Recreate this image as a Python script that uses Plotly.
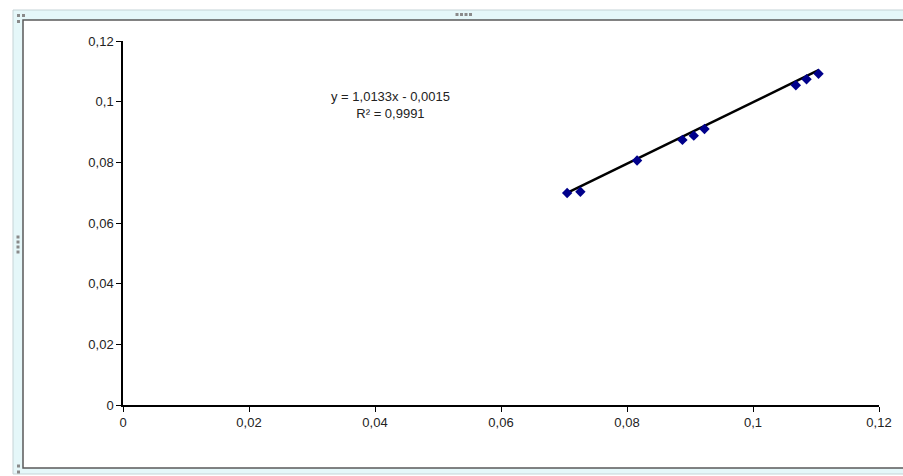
import plotly.graph_objects as go

# Data
x_vals = [0.0705, 0.0726, 0.0816, 0.0888, 0.0906, 0.0923, 0.1068, 0.1085, 0.1104]
y_vals = [0.0699, 0.0703, 0.0806, 0.0874, 0.0888, 0.0910, 0.1054, 0.1074, 0.1092]
slope = 1.0133
intercept = -0.0015
r_squared = "0,9991"

tick_vals = [0, 0.02, 0.04, 0.06, 0.08, 0.1, 0.12]
tick_text = ["0", "0,02", "0,04", "0,06", "0,08", "0,1", "0,12"]

W, H = 903, 476
L, R, T, B = 123, 24, 41, 71
pw, ph = W - L - R, H - T - B


def px(xp):
    return (xp - L) / pw


def py(yp):
    return (H - B - yp) / ph


x_min, x_max = min(x_vals), max(x_vals)
trend_x = [x_min, x_max]
trend_y = [slope * v + intercept for v in trend_x]

fig = go.Figure()
fig.add_trace(go.Scatter(x=trend_x, y=trend_y, mode="lines",
                         line=dict(color="black", width=2.5), showlegend=False,
                         hoverinfo="skip"))
fig.add_trace(go.Scatter(x=x_vals, y=y_vals, mode="markers",
                         marker=dict(symbol="diamond", color="#00008b", size=8,
                                     line=dict(width=0)),
                         showlegend=False))

shapes = [
    dict(type="rect", xref="paper", yref="paper", x0=px(13), x1=px(910), y0=py(474), y1=py(10),
         fillcolor="#e5f7f9", line=dict(color="#c5d3d6", width=1), layer="below"),
    dict(type="rect", xref="paper", yref="paper", x0=px(23), x1=px(912), y0=py(468), y1=py(20),
         fillcolor="white", line=dict(color="#5a5a5a", width=1.5), layer="below"),
]
dots = [(457, 14.5), (461.5, 14.5), (466, 14.5), (470.5, 14.5),
        (18, 237), (18, 242), (18, 247), (18, 252),
        (18.5, 15.5), (23.5, 15.5), (18.5, 21.5),
        (18.5, 466), (18.5, 472)]
for (dx, dy) in dots:
    shapes.append(dict(type="rect", xref="paper", yref="paper",
                       x0=px(dx - 1.5), x1=px(dx + 1.5), y0=py(dy + 1.5), y1=py(dy - 1.5),
                       fillcolor="#8a8a8a", line=dict(width=0), layer="above"))

font = dict(family="Liberation Sans, Arial, sans-serif", size=13, color="#222")

axis_common = dict(
    showgrid=False, zeroline=False, showline=True, linecolor="black", linewidth=1.5,
    ticks="outside", ticklen=5, tickwidth=1, tickcolor="black",
    tickvals=tick_vals, ticktext=tick_text, range=[0, 0.12],
    tickfont=font, fixedrange=True,
)

fig.update_layout(
    width=W, height=H,
    margin=dict(l=L, r=R, t=T, b=B, pad=0),
    paper_bgcolor="white", plot_bgcolor="white",
    xaxis=dict(**axis_common),
    yaxis=dict(**axis_common),
    shapes=shapes,
    annotations=[dict(
        x=px(390), y=py(105), xref="paper", yref="paper",
        xanchor="center", yanchor="middle",
        text="y = 1,0133x - 0,0015<br>R² = " + r_squared,
        showarrow=False, align="center", font=font,
    )],
)

fig.write_html("out.html")
